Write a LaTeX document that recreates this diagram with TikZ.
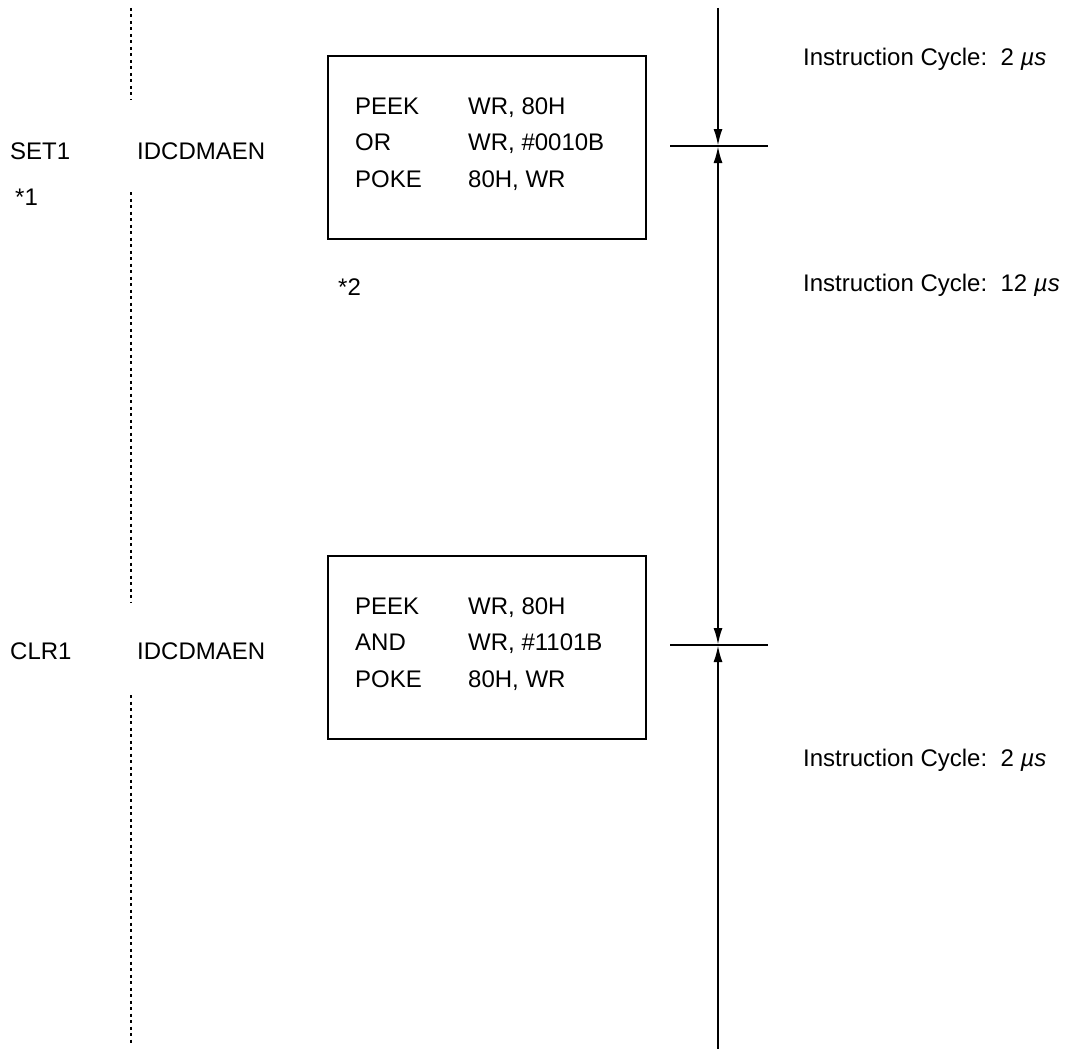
\documentclass[tikz,border=0pt]{standalone}
\usepackage{fontspec}
\setmainfont{Liberation Sans}
\usetikzlibrary{arrows.meta}
\tikzset{ticktip/.tip={Latex[length=17pt,width=9pt]}}
\begin{document}
\begin{tikzpicture}[x=1pt,y=-1pt,
  txt/.style={anchor=base west, inner sep=0pt, font=\fontsize{24}{28}\selectfont},
  rtxt/.style={anchor=base west, inner sep=0pt, font=\fontsize{24}{28}\selectfont},
  dotline/.style={line width=1.8pt, dash pattern=on 3pt off 3.5pt},
  codebox/.style={draw, line width=1.6pt, inner sep=0pt, anchor=north west},
  axisline/.style={line width=2.2pt},
  tickline/.style={line width=2.3pt}]
\useasboundingbox (0,0) rectangle (1069,1049);

% dotted guide
\coordinate (d0) at (131,8);
\coordinate (d1) at (131,100);
\coordinate (d2) at (131,192);
\coordinate (d3) at (131,602);
\coordinate (d4) at (131,695);
\coordinate (d5) at (131,1045);
\draw[dotline] (d0) -- (d1);
\draw[dotline] (d2) -- (d3);
\draw[dotline] (d4) -- (d5);

% left labels
\node[txt] (set) at (10,159) {SET1};
\node[txt] (star1) at (15,205) {*1};
\node[txt] (id1) at (137,159) {IDCDMAEN};
\node[txt] (clr) at (10,659) {CLR1};
\node[txt] (id2) at (137,659) {IDCDMAEN};

% boxes
\node[codebox, minimum width=318pt, minimum height=183pt] (box1) at (327,55) {};
\node[codebox, minimum width=318pt, minimum height=183pt] (box2) at (327,555) {};

\node[txt] (m11) at (355,114) {PEEK};
\node[txt] (o11) at (468,114) {WR, 80H};
\node[txt] (m12) at (355,150) {OR};
\node[txt] (o12) at (468,150) {WR, \#0010B};
\node[txt] (m13) at (355,187) {POKE};
\node[txt] (o13) at (468,187) {80H, WR};

\node[txt] (m21) at (355,614) {PEEK};
\node[txt] (o21) at (468,614) {WR, 80H};
\node[txt] (m22) at (355,650) {AND};
\node[txt] (o22) at (468,650) {WR, \#1101B};
\node[txt] (m23) at (355,687) {POKE};
\node[txt] (o23) at (468,687) {80H, WR};

\node[txt] (star2) at (338,295) {*2};

% time axis
\coordinate (vtop) at (718,8);
\coordinate (t1) at (718,146);
\coordinate (t2) at (718,645);
\coordinate (vbot) at (718,1049);
\coordinate (t1l) at (670,146);
\coordinate (t1r) at (768,146);
\coordinate (t2l) at (670,645);
\coordinate (t2r) at (768,645);
\draw[tickline] (t1l) -- (t1r);
\draw[tickline] (t2l) -- (t2r);
\draw[axisline, -{ticktip}] (vtop) -- (t1);
\draw[axisline, {ticktip}-{ticktip}] (t1) -- (t2);
\draw[axisline, {ticktip}-] (t2) -- (vbot);

% cycle labels
\node[rtxt] (c1) at (803,66) {Instruction Cycle:\ \ 2 \textit{µs}};
\node[rtxt] (c2) at (803,291) {Instruction Cycle:\ \ 12 \textit{µs}};
\node[rtxt] (c3) at (803,766) {Instruction Cycle:\ \ 2 \textit{µs}};
\end{tikzpicture}
\end{document}
